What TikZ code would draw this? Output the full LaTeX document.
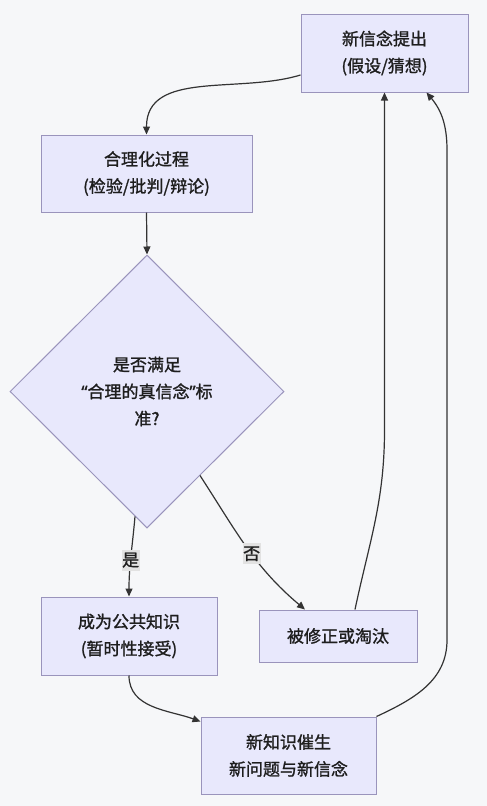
\documentclass[tikz,border=0pt]{standalone}
\usepackage{fontspec}
\setmainfont{Noto Sans CJK SC}[FakeBold=1.3]
\newfontfamily\qfont{Noto Sans}[FakeBold=1.3]
\usepackage{xcolor}
\usetikzlibrary{arrows.meta, positioning, shapes.geometric}
\definecolor{cBG}{HTML}{F6F7F9}
\definecolor{cFILL}{HTML}{E8E8FC}
\definecolor{cEDGE}{HTML}{9A94BC}
\definecolor{cLINE}{HTML}{333333}
\definecolor{cLBL}{HTML}{E2E2E2}
\definecolor{cTXT}{HTML}{1E1E1E}

\begin{document}
\begin{tikzpicture}[x=1pt, y=1pt,
  procbox/.style={draw=cEDGE, fill=cFILL, line width=1pt, align=center, inner sep=0pt,
    text=cTXT, font=\fontsize{17}{27}\selectfont},
  decbox/.style={procbox, shape=diamond, aspect=1},
  flow/.style={draw=cLINE, line width=1.2pt, -{Triangle[length=8pt,width=7pt]}},
  edgelbl/.style={fill=cLBL, inner xsep=0.5pt, inner ysep=3pt, text=cTXT,
    font=\fontsize{17}{20}\selectfont}]
  % canvas
  \fill[cBG] (0,0) rectangle (487,-806);
  \useasboundingbox (0,0) rectangle (487,-806);

  % process boxes and decision
  \node[procbox, minimum width=167pt, minimum height=78pt] (hypo) at (384.5,-53) {新信念提出\\(假设/猜想)};
  \node[procbox, minimum width=211pt, minimum height=77pt] (justify) at (146.5,-173.5) {合理化过程\\(检验/批判/辩论)};
  \node[decbox, minimum width=274pt, minimum height=273pt] (check) at (147,-391.5)
    {是否满足\\{\qfont “}合理的真信念{\qfont ”}标\\准?};
  \node[procbox, minimum width=176pt, minimum height=78pt] (accept) at (129,-636) {成为公共知识\\(暂时性接受)};
  \node[procbox, minimum width=158pt, minimum height=52pt] (revise) at (338,-636) {被修正或淘汰};
  \node[procbox, minimum width=175pt, minimum height=77pt] (spawn) at (288.5,-755.5) {新知识催生\\新问题与新信念};

  % connectors
  \draw[flow] ([yshift=-22pt]hypo.west) to[out=197, in=90] (justify.north);
  \draw[flow] (justify.south) -- (check.north);
  \draw[flow] ([xshift=-12pt,yshift=12pt]check.south) to[out=-95, in=90]
    node[edgelbl, pos=0.55] {是} (accept.north);
  \draw[flow] ([xshift=53pt,yshift=53pt]check.south) to[out=-57, in=140]
    node[edgelbl, pos=0.55] {否} ([xshift=-33pt]revise.north);
  \draw[flow] ([xshift=17pt]revise.north) to[out=78, in=-90] (384.5,-430) -- (hypo.south);
  \draw[flow] (spawn.north east) to[out=25, in=-90] (447,-640) -- (447,-150)
    to[out=90, in=-50] ([xshift=42pt]hypo.south);
  \draw[flow] (accept.south) to[out=-90, in=160] ([yshift=34pt]spawn.west);
\end{tikzpicture}
\end{document}
